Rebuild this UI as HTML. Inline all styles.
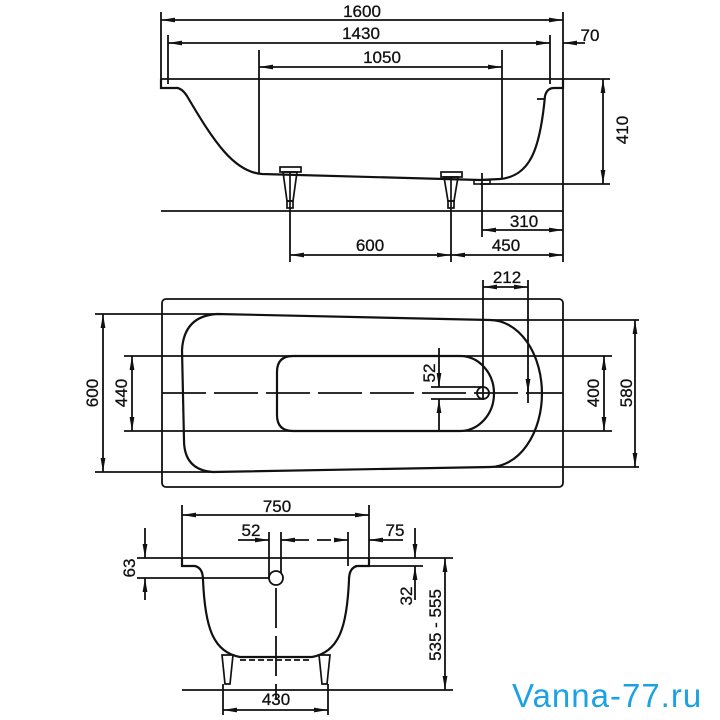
<!DOCTYPE html>
<html><head><meta charset="utf-8"><style>
html,body{margin:0;padding:0;background:#fff;}
svg{display:block;}
text{font-family:"Liberation Sans",Arial,sans-serif;font-size:17px;fill:#111;stroke:#111;stroke-width:0.3px;}
</style></head><body>
<svg width="720" height="720" viewBox="0 0 720 720" xmlns="http://www.w3.org/2000/svg">
<defs>
<marker id="a" viewBox="0 0 14 6" refX="14" refY="3" markerWidth="14" markerHeight="6" markerUnits="userSpaceOnUse" orient="auto-start-reverse">
<path d="M0,0.6 L14,3 L0,5.4 Z" fill="#111"/></marker>
</defs>
<g stroke="#111" stroke-width="1.8" fill="none">
<!-- ===== SIDE VIEW ===== -->
<line x1="161" y1="12" x2="161" y2="88"/>
<line x1="563" y1="12" x2="563" y2="262"/>
<line x1="161" y1="20" x2="563" y2="20" marker-start="url(#a)" marker-end="url(#a)"/>
<line x1="168" y1="35" x2="168" y2="84"/>
<line x1="550" y1="35" x2="550" y2="84"/>
<line x1="168" y1="43" x2="550" y2="43" marker-start="url(#a)" marker-end="url(#a)"/>
<line x1="585" y1="43" x2="563" y2="43" marker-end="url(#a)"/>
<line x1="259" y1="50" x2="259" y2="174"/>
<line x1="502" y1="50" x2="502" y2="179"/>
<line x1="259" y1="67" x2="502" y2="67" marker-start="url(#a)" marker-end="url(#a)"/>
<line x1="161" y1="79" x2="610" y2="79"/>
<line x1="480" y1="184" x2="610" y2="184"/>
<line x1="603" y1="79" x2="603" y2="184" marker-start="url(#a)" marker-end="url(#a)"/>
<line x1="161" y1="211" x2="563" y2="211"/>
<line x1="482" y1="173" x2="482" y2="237"/>
<line x1="482" y1="230" x2="563" y2="230" marker-start="url(#a)" marker-end="url(#a)"/>
<line x1="290" y1="211" x2="290" y2="262"/>
<line x1="451" y1="211" x2="451" y2="262"/>
<line x1="290" y1="255" x2="451" y2="255" marker-start="url(#a)" marker-end="url(#a)"/>
<line x1="451" y1="255" x2="563" y2="255" marker-start="url(#a)" marker-end="url(#a)"/>
<path stroke-width="2.2" d="M161,79 L161,88 L175,88 Q181,87 187,96 C214,142 234,172 262,174 L480,180 L500,179 C530,176 540,150 545,96 Q547,88 554,88 L563,88 L563,79"/>
<rect x="474" y="180" width="16" height="4" stroke-width="1.6"/>
<line x1="537" y1="99" x2="545" y2="99"/>
<!-- legs -->
<g stroke-width="1.7">
<rect x="280" y="167" width="21" height="5"/><path d="M283,172 L297,172 L293,201 L287,201 Z"/><line x1="290" y1="172" x2="290" y2="211"/><rect x="287" y="201" width="6" height="7"/>
<rect x="441" y="172" width="21" height="5"/><path d="M444,177 L458,177 L454,201 L448,201 Z"/><line x1="451" y1="177" x2="451" y2="211"/><rect x="448" y="201" width="6" height="7"/>
</g>
<!-- ===== PLAN VIEW ===== -->
<rect x="162" y="299" width="401" height="188" rx="4" stroke-width="1.8"/>
<path stroke-width="2.2" d="M217,314 L490,320 A52,73.5 0 0 1 490,467 L213,472 Q184,470 184,440 L182,350 Q184,316 217,314 Z"/>
<path stroke-width="2.2" d="M293,356 L460,356 A34,37.5 0 0 1 460,431 L293,431 Q277,431 277,415 L277,372 Q277,356 293,356 Z"/>
<line x1="95" y1="314" x2="217" y2="314"/>
<line x1="95" y1="472" x2="213" y2="472"/>
<line x1="103" y1="314" x2="103" y2="472" marker-start="url(#a)" marker-end="url(#a)"/>
<line x1="124" y1="356" x2="612" y2="356"/>
<line x1="124" y1="431" x2="612" y2="431"/>
<line x1="132" y1="356" x2="132" y2="431" marker-start="url(#a)" marker-end="url(#a)"/>
<line x1="604" y1="356" x2="604" y2="431" marker-start="url(#a)" marker-end="url(#a)"/>
<line x1="490" y1="320" x2="639" y2="320"/>
<line x1="490" y1="467" x2="639" y2="467"/>
<line x1="635" y1="320" x2="635" y2="467" marker-start="url(#a)" marker-end="url(#a)"/>
<line x1="162" y1="393" x2="563" y2="393" stroke-dasharray="44,8" stroke-width="1.8"/>
<circle cx="483" cy="393" r="6"/>
<line x1="431" y1="387" x2="483" y2="387"/>
<line x1="431" y1="399" x2="483" y2="399"/>
<line x1="439" y1="348" x2="439" y2="387" marker-end="url(#a)"/>
<line x1="439" y1="431" x2="439" y2="399" marker-end="url(#a)"/>
<line x1="483" y1="280" x2="483" y2="400"/>
<line x1="528" y1="280" x2="528" y2="403"/>
<line x1="528" y1="378" x2="528" y2="393" marker-end="url(#a)"/>
<line x1="483" y1="287" x2="528" y2="287" marker-start="url(#a)" marker-end="url(#a)"/>
<!-- ===== FRONT VIEW ===== -->
<line x1="182" y1="505" x2="182" y2="566"/>
<line x1="369" y1="505" x2="369" y2="566"/>
<line x1="182" y1="515" x2="369" y2="515" marker-start="url(#a)" marker-end="url(#a)"/>
<line x1="137" y1="558" x2="453" y2="558"/>
<line x1="137" y1="578" x2="283" y2="578"/>
<line x1="145" y1="528" x2="145" y2="558" marker-end="url(#a)"/>
<line x1="145" y1="600" x2="145" y2="578" marker-end="url(#a)"/>
<line x1="269" y1="532" x2="269" y2="578"/>
<line x1="281" y1="532" x2="281" y2="578"/>
<line x1="348" y1="532" x2="348" y2="566"/>
<line x1="238" y1="540" x2="269" y2="540" marker-end="url(#a)"/>
<line x1="295" y1="540" x2="281" y2="540" marker-end="url(#a)"/>
<line x1="295" y1="540" x2="348" y2="540" stroke-dasharray="14,8" marker-end="url(#a)"/>
<line x1="403" y1="540" x2="369" y2="540" marker-end="url(#a)"/>
<line x1="355" y1="566" x2="423" y2="566"/>
<line x1="415" y1="528" x2="415" y2="558" marker-end="url(#a)"/>
<line x1="415" y1="600" x2="415" y2="566" marker-end="url(#a)"/>
<line x1="445" y1="558" x2="445" y2="690" marker-start="url(#a)" marker-end="url(#a)"/>
<circle cx="276" cy="578" r="7" fill="#fff"/>
<line x1="276" y1="588" x2="276" y2="700" stroke-dasharray="40,8"/>
<path stroke-width="2.2" d="M182,558 L182,566 L195,566 Q203,568 203,580 C205,625 212,652 240,657 L312,657 C340,652 347,625 349,580 Q349,568 357,566 L369,566 L369,558"/>
<path stroke-width="1.7" d="M222,655 L233,655 L230,684 L225,684 Z M319,655 L330,655 L327,684 L322,684 Z"/>
<path stroke-width="1.7" stroke-dasharray="6,3" d="M240,660 L312,660"/>
<line x1="182" y1="690" x2="453" y2="690"/>
<line x1="223" y1="684" x2="223" y2="715"/>
<line x1="328" y1="684" x2="328" y2="715"/>
<line x1="223" y1="710" x2="328" y2="710" marker-start="url(#a)" marker-end="url(#a)"/>
</g>
<!-- labels -->
<g text-anchor="middle">
<text x="362" y="17">1600</text>
<text x="361" y="39">1430</text>
<text x="382" y="63">1050</text>
<text x="590" y="41">70</text>
<text x="524" y="227">310</text>
<text x="370" y="251">600</text>
<text x="506" y="251">450</text>
<text x="507" y="283">212</text>
<text x="277" y="512">750</text>
<text x="251" y="536">52</text>
<text x="395" y="536">75</text>
<text x="276" y="705">430</text>
<text transform="translate(628,130) rotate(-90)">410</text>
<text transform="translate(98,393) rotate(-90)">600</text>
<text transform="translate(127,393) rotate(-90)">440</text>
<text transform="translate(435,373) rotate(-90)">52</text>
<text transform="translate(599,393) rotate(-90)">400</text>
<text transform="translate(632,393) rotate(-90)">580</text>
<text transform="translate(135,568) rotate(-90)">63</text>
<text transform="translate(412,596) rotate(-90)">32</text>
<text transform="translate(441,625) rotate(-90)">535 - 555</text>
</g>
<text x="512" y="707" style="font-size:33px;fill:#1ba2e6;stroke:none;letter-spacing:1px">Vanna-77.ru</text>
</svg>
</body></html>
